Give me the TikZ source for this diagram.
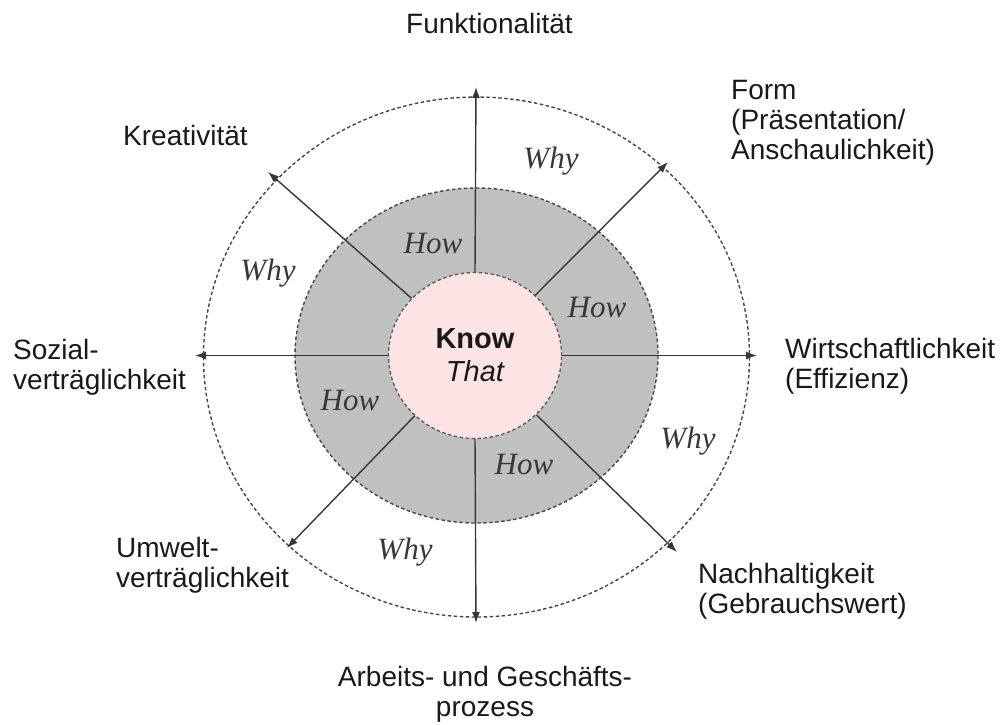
\documentclass[tikz,border=0pt]{standalone}
\usepackage{fontspec}
\setmainfont{Liberation Sans}
\newfontfamily\serifit{Liberation Serif}
\usetikzlibrary{shapes.geometric,arrows.meta}
\definecolor{ringgray}{RGB}{192,192,192}
\definecolor{knowpink}{RGB}{253,228,228}
\definecolor{linegray}{RGB}{55,55,55}
\definecolor{txt}{RGB}{25,25,25}
\begin{document}
\begin{tikzpicture}[x=1pt,y=-1pt,
  lbl/.style={inner sep=0pt, font=\fontsize{28}{30}\selectfont, text=txt, align=left, anchor=base west},
  qword/.style={inner sep=0pt, font=\serifit\itshape\fontsize{31}{33}\selectfont, text=black!78},
  ray/.style={draw=linegray, line width=1.4pt, -{Latex[length=11pt,width=8pt]}},
  dotline/.style={draw=black!72, line width=1.4pt, dash pattern=on 3.5pt off 2.5pt},
]
\useasboundingbox (0,0) rectangle (1003,724);
% outer dashed ellipse
\draw[dotline] (476.5,357) ellipse [x radius=273, y radius=260];
% gray ring
\draw[dotline, fill=ringgray] (476.5,355.5) ellipse [x radius=181.5, y radius=167.5];
% centre
\node[ellipse, draw=black!65, line width=1.3pt, dash pattern=on 3.5pt off 2.5pt, fill=knowpink,
      minimum width=173pt, minimum height=166pt, inner sep=0pt, align=center,
      font=\fontsize{29}{33}\selectfont, text=txt] (know) at (475,355.5)
      {{\bfseries Know}\\{\itshape That}};
% arrow tips
\coordinate (tT) at (476,87);
\coordinate (tB) at (476,623);
\coordinate (tL) at (195,355.5);
\coordinate (tR) at (757,355.5);
\coordinate (tTL) at (268,172);
\coordinate (tTR) at (668,162);
\coordinate (tBL) at (287,548);
\coordinate (tBR) at (677,552);
\draw[ray] (know.north) -- (tT);
\draw[ray] (know.south) -- (tB);
\draw[ray] (know.west) -- (tL);
\draw[ray] (know.east) -- (tR);
\draw[ray] (know.138.5) -- (tTL);
\draw[ray] (know.45.5) -- (tTR);
\draw[ray] (know.225.5) -- (tBL);
\draw[ray] (know.-44.5) -- (tBR);
% How / Why
\node[qword] (how1) at (433,243) {How};
\node[qword] (how2) at (597,307) {How};
\node[qword] (how3) at (350,400) {How};
\node[qword] (how4) at (524,464) {How};
\node[qword] (why1) at (268,273) {Why};
\node[qword] (why2) at (551,161) {Why};
\node[qword] (why3) at (405,552) {Why};
\node[qword] (why4) at (688,441) {Why};
% outer labels (base anchor = baseline of last line)
\node[lbl, anchor=base] (funk) at (489.5,33) {Funktionalität};
\node[lbl] (krea) at (123,145) {Kreativität};
\node[lbl] (form) at (731,159) {Form\\(Präsentation/\\Anschaulichkeit)};
\node[lbl] (sozial) at (13,389) {Sozial-\\verträglichkeit};
\node[lbl] (wirt) at (785,388) {Wirtschaftlichkeit\\(Effizienz)};
\node[lbl] (umwelt) at (116,587) {Umwelt-\\verträglichkeit};
\node[lbl] (nach) at (698,613) {Nachhaltigkeit\\(Gebrauchswert)};
\node[lbl, align=center, anchor=base] (arb) at (485,716) {Arbeits- und Geschäfts-\\prozess};
\end{tikzpicture}
\end{document}
